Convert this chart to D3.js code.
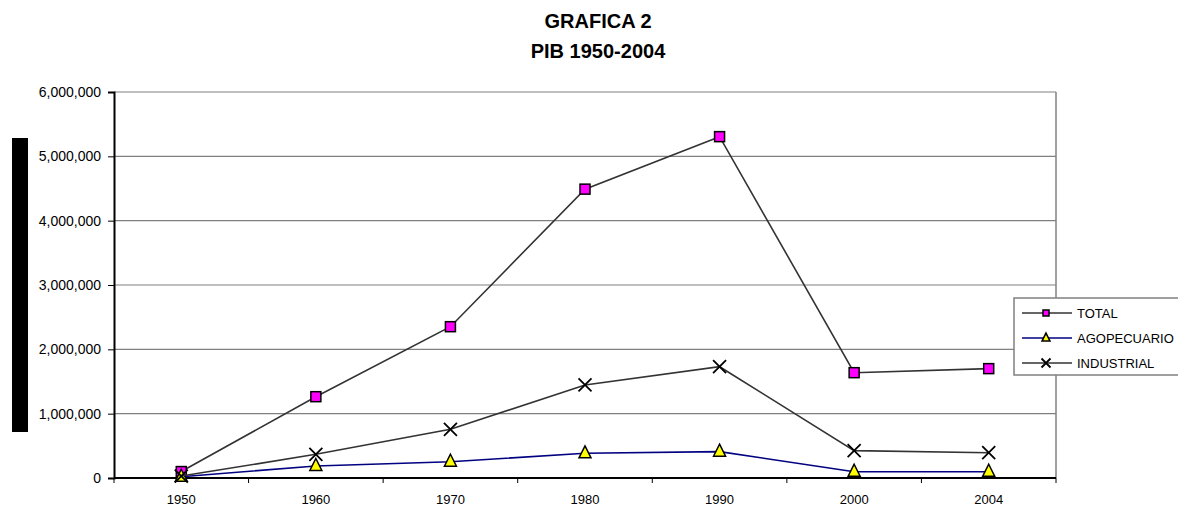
<!DOCTYPE html>
<html><head><meta charset="utf-8">
<script src="https://cdn.jsdelivr.net/npm/d3@7"></script>
<style>body{margin:0;background:#fff;} svg{display:block;font-family:"Liberation Sans",Arial,sans-serif;}</style>
</head><body>
<svg id="c" width="1178" height="506"></svg>
<script>
const years = ["1950","1960","1970","1980","1990","2000","2004"];
const total = [100000, 1264000, 2352000, 4490000, 5306000, 1637000, 1700000];
const agro = [20000, 187000, 253000, 384000, 410000, 98000, 98000];
const industrial = [30000, 368000, 757000, 1446000, 1730000, 425000, 393000];
const yTicks = [0, 1000000, 2000000, 3000000, 4000000, 5000000, 6000000];
const seriesNames = ["TOTAL", "AGOPECUARIO", "INDUSTRIAL"];

const svg = d3.select("#c");
const L = 114, R = 1056, T = 92, B = 478;
const x = d3.scaleBand().domain(years).range([L, R]);
const y = d3.scaleLinear().domain([0, 6000000]).range([B, T]);
const fmt = d3.format(",");

// title
svg.append("text").attr("x", 598).attr("y", 28).attr("text-anchor", "middle")
  .attr("font-weight", "bold").attr("font-size", 20).text("GRAFICA 2");
svg.append("text").attr("x", 598).attr("y", 58).attr("text-anchor", "middle")
  .attr("font-weight", "bold").attr("font-size", 20).text("PIB 1950-2004");

// left black bar (y-axis title block)
svg.append("rect").attr("x", 12).attr("y", 138).attr("width", 16).attr("height", 294).attr("fill", "#000");

// gridlines
svg.append("g").selectAll("line").data(yTicks.filter(d => d > 0)).join("line")
  .attr("x1", L).attr("x2", R).attr("y1", d => y(d)).attr("y2", d => y(d))
  .attr("stroke", "#808080").attr("stroke-width", 1.2);
// plot border right
svg.append("line").attr("x1", R).attr("x2", R).attr("y1", T).attr("y2", B)
  .attr("stroke", "#808080").attr("stroke-width", 1.5);

// y axis
const ya = svg.append("g").attr("transform", `translate(${L},0)`)
  .call(d3.axisLeft(y).tickValues(yTicks).tickFormat(fmt).tickSize(6).tickPadding(7));
ya.select(".domain").attr("stroke", "#000").attr("stroke-width", 2);
ya.selectAll("line").attr("stroke", "#000");
ya.selectAll("text").attr("font-size", 14).attr("font-family", "Liberation Sans, Arial, sans-serif").attr("fill", "#000");

// x axis
const xa = svg.append("g").attr("transform", `translate(0,${B})`)
  .call(d3.axisBottom(x).tickSize(0).tickPadding(17));
xa.select(".domain").attr("stroke", "#000").attr("stroke-width", 2).attr("d", `M${L},0H${R}`);
xa.selectAll("text").attr("font-size", 13).attr("font-family", "Liberation Sans, Arial, sans-serif").attr("fill", "#000");
// boundary ticks
const bounds = d3.range(years.length + 1).map(i => L + i * x.step());
svg.append("g").selectAll("line").data(bounds).join("line")
  .attr("x1", d => d).attr("x2", d => d).attr("y1", B).attr("y2", B + 5)
  .attr("stroke", "#000").attr("stroke-width", 1);

const cx = d => x(d) + x.bandwidth() / 2;
const line = d3.line().x((d, i) => cx(years[i])).y(d => y(d));

const sym = {
  square: (g, px, py, s) => g.append("rect").attr("x", px - s/2).attr("y", py - s/2).attr("width", s).attr("height", s)
    .attr("fill", "#ff00ff").attr("stroke", "#000").attr("stroke-width", 1.5),
  tri: (g, px, py, s) => g.append("path").attr("d", `M${px},${py - s*0.62}L${px + s/2},${py + s*0.38}L${px - s/2},${py + s*0.38}Z`)
    .attr("fill", "#ffff00").attr("stroke", "#000").attr("stroke-width", 1.5),
  cross: (g, px, py, s) => g.append("path").attr("d", `M${px - s/2},${py - s/2}L${px + s/2},${py + s/2}M${px + s/2},${py - s/2}L${px - s/2},${py + s/2}`)
    .attr("stroke", "#000").attr("stroke-width", 1.8).attr("fill", "none")
};

const series = [
  {name: seriesNames[0], vals: total, color: "#333333", mk: "square", size: 10},
  {name: seriesNames[1], vals: agro, color: "#000080", mk: "tri", size: 12},
  {name: seriesNames[2], vals: industrial, color: "#333333", mk: "cross", size: 13}
];

series.forEach(s => {
  const g = svg.append("g");
  g.append("path").attr("d", line(s.vals)).attr("fill", "none").attr("stroke", s.color).attr("stroke-width", 1.6);
  s.vals.forEach((v, i) => sym[s.mk](g, cx(years[i]), y(v), s.size));
});

// legend
const lg = svg.append("g");
lg.append("rect").attr("x", 1014).attr("y", 298).attr("width", 180).attr("height", 77)
  .attr("fill", "#fff").attr("stroke", "#808080").attr("stroke-width", 1.5);
const ly = [313, 338, 363];
series.forEach((s, i) => {
  lg.append("line").attr("x1", 1022).attr("x2", 1072).attr("y1", ly[i]).attr("y2", ly[i])
    .attr("stroke", s.color).attr("stroke-width", 1.6);
  sym[s.mk](lg, 1046, ly[i], s.mk === "square" ? 6 : s.mk === "tri" ? 8 : 9);
  lg.append("text").attr("x", 1077).attr("y", ly[i] + 4.5).attr("font-size", 13).text(s.name);
});
</script>
</body></html>
